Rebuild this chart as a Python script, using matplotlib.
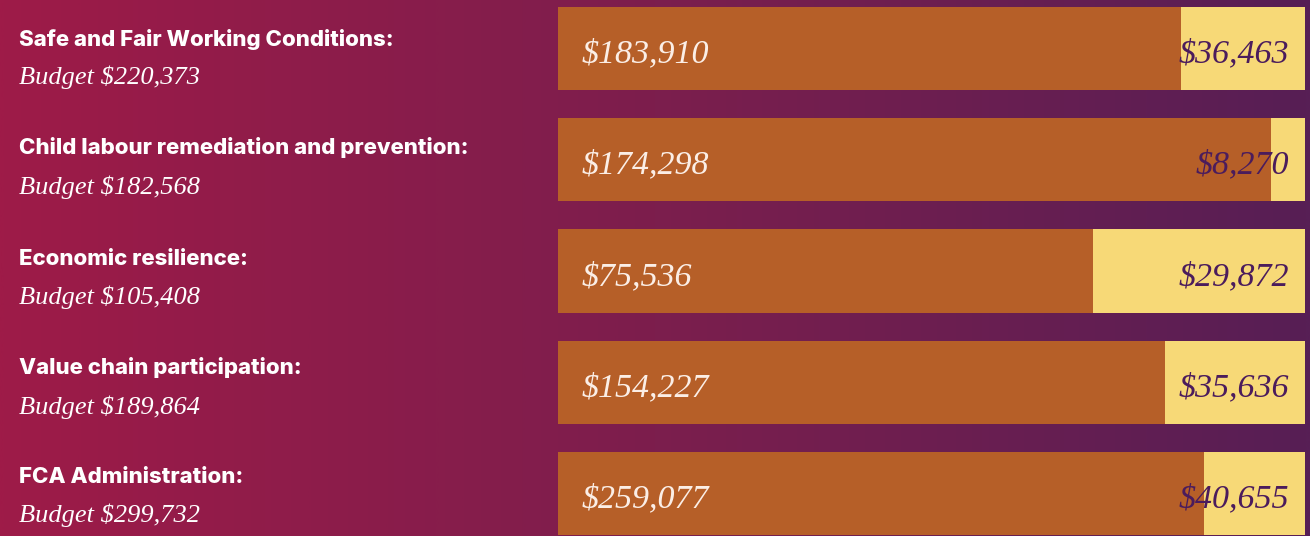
import numpy as np
import matplotlib
matplotlib.use("Agg")
import matplotlib.pyplot as plt
from matplotlib.colors import LinearSegmentedColormap

# ---- data ----
categories = ["Safe and Fair Working Conditions:",
              "Child labour remediation and prevention:",
              "Economic resilience:",
              "Value chain participation:",
              "FCA Administration:"]
spent = [183910, 174298, 75536, 154227, 259077]
remaining = [36463, 8270, 29872, 35636, 40655]
budget = [220373, 182568, 105408, 189864, 299732]

W, H = 1310, 536
fig = plt.figure(figsize=(W / 100, H / 100), dpi=100)

# background gradient
bg = fig.add_axes([0, 0, 1, 1])
cmap = LinearSegmentedColormap.from_list("bg", ["#9e1b48", "#7c1e4d", "#571f55"])
grad = np.linspace(0, 1, 512).reshape(1, -1)
bg.imshow(grad, aspect="auto", cmap=cmap, extent=[0, 1, 0, 1])
bg.set_axis_off()

# bars axis
x0, x1 = 558, 1305
ax = fig.add_axes([x0 / W, 0, (x1 - x0) / W, 1])
ax.set_facecolor("none")
ax.set_axis_off()
spent_a = np.array(spent, float)
rem_a = np.array(remaining, float)
tot = spent_a + rem_a
frac_s = spent_a / tot
frac_r = rem_a / tot
y = np.arange(len(categories))
ax.barh(y, frac_s, height=0.75, color="#b65f28", linewidth=0)
ax.barh(y, frac_r, left=frac_s, height=0.75, color="#f7d977", linewidth=0)
ax.set_xlim(0, 1)
ax.set_ylim(4 + 42.5 / 111.25, -48.5 / 111.25)

serif = "Liberation Serif"
for i in range(len(categories)):
    ax.text(24 / (x1 - x0), y[i] + 0.05, f"${spent[i]:,}", ha="left", va="center",
            fontsize=24.5, style="italic", family=serif, color="#fbeee6")
    ax.text(1 - 16 / (x1 - x0), y[i] + 0.05, f"${remaining[i]:,}", ha="right", va="center",
            fontsize=24.5, style="italic", family=serif, color="#4b1c5c")

# left labels
title_y = [39, 148, 259, 368, 477]
budget_y = [77, 187, 297, 407, 515]
for i, c in enumerate(categories):
    fig.text(19 / W, 1 - title_y[i] / H, c, ha="left", va="center",
             fontsize=16, fontweight="heavy", family="Inter", color="white")
    fig.text(19 / W, 1 - budget_y[i] / H, f"Budget ${budget[i]:,}", ha="left", va="center",
             fontsize=19, style="italic", family=serif, color="white")

fig.savefig("out.png", dpi=100)
